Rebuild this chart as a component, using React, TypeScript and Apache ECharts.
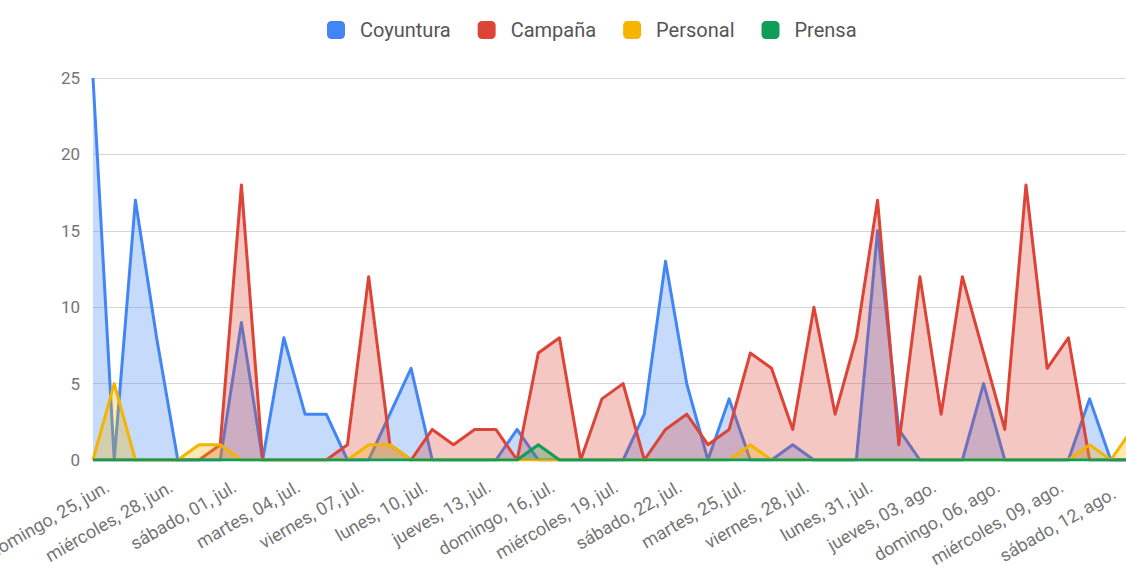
import React, { useEffect, useRef } from "react";
import * as echarts from "echarts";

// Daily categories, 25 jun – 13 ago
const days: string[] = [
  "domingo, 25, jun.", "lunes, 26, jun.", "martes, 27, jun.", "miércoles, 28, jun.",
  "jueves, 29, jun.", "viernes, 30, jun.", "sábado, 01, jul.", "domingo, 02, jul.",
  "lunes, 03, jul.", "martes, 04, jul.", "miércoles, 05, jul.", "jueves, 06, jul.",
  "viernes, 07, jul.", "sábado, 08, jul.", "domingo, 09, jul.", "lunes, 10, jul.",
  "martes, 11, jul.", "miércoles, 12, jul.", "jueves, 13, jul.", "viernes, 14, jul.",
  "sábado, 15, jul.", "domingo, 16, jul.", "lunes, 17, jul.", "martes, 18, jul.",
  "miércoles, 19, jul.", "jueves, 20, jul.", "viernes, 21, jul.", "sábado, 22, jul.",
  "domingo, 23, jul.", "lunes, 24, jul.", "martes, 25, jul.", "miércoles, 26, jul.",
  "jueves, 27, jul.", "viernes, 28, jul.", "sábado, 29, jul.", "domingo, 30, jul.",
  "lunes, 31, jul.", "martes, 01, ago.", "miércoles, 02, ago.", "jueves, 03, ago.",
  "viernes, 04, ago.", "sábado, 05, ago.", "domingo, 06, ago.", "lunes, 07, ago.",
  "martes, 08, ago.", "miércoles, 09, ago.", "jueves, 10, ago.", "viernes, 11, ago.",
  "sábado, 12, ago.", "domingo, 13, ago.",
];

const coyuntura: number[] = [
  25, 0, 17, 8, 0, 0, 0, 9, 0, 8, 3, 3, 0, 0, 3, 6, 0, 0, 0, 0, 2, 0, 0, 0, 0,
  0, 3, 13, 5, 0, 4, 0, 0, 1, 0, 0, 0, 15, 2, 0, 0, 0, 5, 0, 0, 0, 0, 4, 0, 0,
];

const campana: number[] = [
  0, 0, 0, 0, 0, 0, 1, 18, 0, 0, 0, 0, 1, 12, 1, 0, 2, 1, 2, 2, 0, 7, 8, 0, 4,
  5, 0, 2, 3, 1, 2, 7, 6, 2, 10, 3, 8, 17, 1, 12, 3, 12, 7, 2, 18, 6, 8, 0, 0, 0,
];

const personal: number[] = [
  0, 5, 0, 0, 0, 1, 1, 0, 0, 0, 0, 0, 0, 1, 1, 0, 0, 0, 0, 0, 0, 0, 0, 0, 0,
  0, 0, 0, 0, 0, 0, 1, 0, 0, 0, 0, 0, 0, 0, 0, 0, 0, 0, 0, 0, 0, 0, 1, 0, 2,
];

const prensa: number[] = [
  0, 0, 0, 0, 0, 0, 0, 0, 0, 0, 0, 0, 0, 0, 0, 0, 0, 0, 0, 0, 0, 1, 0, 0, 0,
  0, 0, 0, 0, 0, 0, 0, 0, 0, 0, 0, 0, 0, 0, 0, 0, 0, 0, 0, 0, 0, 0, 0, 0, 0,
];

const seriesNames: string[] = ["Coyuntura", "Campaña", "Personal", "Prensa"];
const seriesColors: string[] = ["#4285F4", "#DB4437", "#F4B400", "#0F9D58"];
const yTicks = { min: 0, max: 25, step: 5 };
const labelEvery = 3; // one date label every three days

const FONT = "Roboto, 'Noto Sans', Arial, sans-serif";
const LABEL_STYLE = {
  fontFamily: FONT,
  fontSize: 18,
  color: "#757575",
  lineHeight: 58,
};

export default function App() {
  const ref = useRef<HTMLDivElement>(null);

  useEffect(() => {
    if (!ref.current) return;
    const chart = echarts.init(ref.current, undefined, { renderer: "svg" });
    const values = [coyuntura, campana, personal, prensa];
    // last labelled day is pulled back so it stays inside the chart
    const lastLabelled =
      Math.floor((days.length - 1) / labelEvery) * labelEvery;

    chart.setOption({
      animation: false,
      backgroundColor: "#ffffff",
      textStyle: { fontFamily: FONT },
      legend: {
        top: 15,
        left: 322,
        icon: "roundRect",
        itemWidth: 18,
        itemHeight: 18,
        itemGap: 27,
        textStyle: {
          fontFamily: FONT,
          fontSize: 20,
          color: "#555555",
          padding: [0, 0, 0, 10],
        },
        data: seriesNames,
      },
      grid: {
        left: 93,
        right: -6,
        top: 78,
        bottom: 110,
        containLabel: false,
        outerBoundsMode: "none",
      },
      xAxis: {
        type: "category",
        data: days,
        boundaryGap: false,
        axisLine: { show: false },
        axisTick: { show: false },
        splitLine: { show: false },
        axisLabel: {
          interval: 0,
          formatter: (value: string, index: number) => {
            if (index % labelEvery !== 0) return "";
            return index === lastLabelled ? `{edge|${value}}` : value;
          },
          rotate: 30,
          margin: 0,
          hideOverlap: false,
          verticalAlign: "top",
          ...LABEL_STYLE,
          rich: {
            edge: { ...LABEL_STYLE, padding: [0, 13, 0, 0] },
          },
        },
      },
      yAxis: {
        type: "value",
        min: yTicks.min,
        max: yTicks.max,
        interval: yTicks.step,
        axisLine: { show: false },
        axisTick: { show: false },
        axisLabel: {
          margin: 13,
          fontFamily: FONT,
          fontSize: 17,
          color: "#757575",
        },
        splitLine: { lineStyle: { color: "#d6d6d6", width: 1 } },
      },
      series: seriesNames.map((name, i) => ({
        name,
        type: "line",
        data: values[i],
        symbol: "none",
        showSymbol: false,
        color: seriesColors[i],
        lineStyle: { width: 3, color: seriesColors[i], join: "round" },
        areaStyle: { color: seriesColors[i], opacity: 0.3 },
        z: 2 + i,
      })),
    });

    return () => chart.dispose();
  }, []);

  return (
    <div
      ref={ref}
      style={{ position: "fixed", left: 0, top: 0, width: 1126, height: 570 }}
    />
  );
}
